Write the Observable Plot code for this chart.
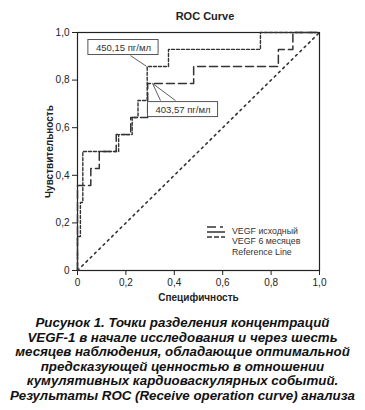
<!DOCTYPE html>
<html><head><meta charset="utf-8">
<script src="https://cdn.jsdelivr.net/npm/d3@7"></script>
<script src="https://cdn.jsdelivr.net/npm/@observablehq/plot@0.6"></script>
<style>
body{margin:0;background:#fff;font-family:"Liberation Sans",Arial,sans-serif;}
#wrap{position:relative;width:365px;height:410px;}
#border{position:absolute;left:4px;top:4px;width:356px;height:306px;border:1.5px solid #222;}
#chart{position:absolute;left:0;top:0;}
#caption{position:absolute;left:0;top:316px;width:365px;text-align:center;font-weight:bold;font-style:italic;font-size:13.3px;line-height:14.6px;color:#111;}
</style></head>
<body><div id="wrap"><div id="border"></div><div id="chart"></div><div id="caption"></div></div>
<script>
// VEGF 6 месяцев (corners, step-before): 1-specificity, sensitivity
const sixX = [0, 0.012, 0.022, 0.17, 0.226, 0.25, 0.288, 0.376, 0.756, 1];
const sixY = [0, 0.143, 0.286, 0.5, 0.571, 0.643, 0.714, 0.857, 0.929, 1];
// VEGF исходный
const baseX = [0, 0.055, 0.09, 0.16, 0.22, 0.29, 0.48, 0.83, 0.89, 1];
const baseY = [0, 0.357, 0.429, 0.5, 0.571, 0.643, 0.786, 0.857, 0.929, 1];
const refX = [0, 1];
const refY = [0, 1];
const ticks = [0, 0.2, 0.4, 0.6, 0.8, 1.0];
const seriesNames = ["VEGF исходный", "VEGF 6 месяцев", "Reference Line"];
const annLabels = ["450,15 пг/мл", "403,57 пг/мл"];
const annBoxX = [0.19, 0.436];
const annBoxY = [0.937, 0.676];
const captionLines = [
 "Рисунок 1. Точки разделения концентраций",
 "VEGF-1 в начале исследования и через шесть",
 "месяцев наблюдения, обладающие оптимальной",
 "предсказующей ценностью в отношении",
 "кумулятивных кардиоваскулярных событий.",
 "Результаты ROC (Receive operation curve) анализа"
];

const six = sixX.map((x,i)=>({x, y: sixY[i]}));
const base = baseX.map((x,i)=>({x, y: baseY[i]}));
const ref = refX.map((x,i)=>({x, y: refY[i]}));
const bw = 0.29, bh = 0.063;
const boxes = annLabels.map((t,i)=>({t, x: annBoxX[i], y: annBoxY[i]}));
const links = [
  {x1: 0.219, y1: 0.903, x2: 0.285, y2: 0.858},
  {x1: 0.343, y1: 0.714, x2: 0.31, y2: 0.786},
  {x1: 0.405, y1: 0.714, x2: 0.31, y2: 0.786}
];
const fmt = d => d === 0 ? "0" : d.toFixed(1).replace(".", ",");
const col = "#333";

const plot = Plot.plot({
  width: 365, height: 316,
  marginLeft: 77, marginRight: 46, marginTop: 32, marginBottom: 46,
  x: {domain: [0,1]}, y: {domain: [0,1]},
  style: {fontFamily: "'Liberation Sans', Arial, sans-serif", fontSize: "10px", color: "#222", background: "white"},
  marks: [
    Plot.frame({stroke: "#222", strokeWidth: 1.2}),
    Plot.axisX({ticks, tickFormat: fmt, tickSize: 5, tickPadding: 3, fontSize: 10,
      label: "Специфичность", labelAnchor: "center", labelArrow: "none", labelOffset: 30}),
    Plot.axisY({ticks, tickFormat: fmt, tickSize: 5, tickPadding: 3, fontSize: 10,
      label: "Чувствительность", labelAnchor: "center", labelArrow: "none", labelOffset: 32}),
    Plot.line(ref, {x: "x", y: "y", stroke: col, strokeWidth: 1.6, strokeDasharray: "2,4"}),
    Plot.line(base, {x: "x", y: "y", curve: "step-before", stroke: col, strokeWidth: 1.5, strokeDasharray: "8,4"}),
    Plot.line(six, {x: "x", y: "y", curve: "step-before", stroke: col, strokeWidth: 1.4, strokeDasharray: "3,2"}),
    Plot.link(links, {x1: "x1", y1: "y1", x2: "x2", y2: "y2", stroke: "#333", strokeWidth: 0.8}),
    Plot.rect(boxes, {x1: d=>d.x-bw/2, x2: d=>d.x+bw/2, y1: d=>d.y-bh/2, y2: d=>d.y+bh/2, fill: "white", stroke: "#444", strokeWidth: 0.9}),
    Plot.text(boxes, {x: "x", y: "y", text: "t", fontSize: 9.5, fill: "#333"})
  ]
});
document.getElementById("chart").appendChild(plot);
const svg = d3.select(plot);
svg.selectAll("[aria-label='x-axis label'] text, [aria-label='y-axis label'] text").attr("font-weight","bold").attr("font-size", 10);
svg.append("text").attr("x", 205).attr("y", 20).attr("text-anchor","middle").attr("font-weight","bold").attr("font-size", 11).attr("fill","#222").text("ROC Curve");
// legend
const symDash = ["9,4,3,20", "16,0", "5,2"];
const symY = [227, 232, 237];
const txtY = [233.5, 244, 255];
seriesNames.forEach((n,i)=>{
  svg.append("line").attr("x1",207).attr("x2",225).attr("y1", symY[i]).attr("y2", symY[i])
    .attr("stroke", col).attr("stroke-width", 1.5).attr("stroke-dasharray", symDash[i]);
  svg.append("text").attr("x", 232).attr("y", txtY[i]).attr("text-anchor","start").attr("font-size", 8.8).attr("fill","#333").text(n);
});
document.getElementById("caption").innerHTML = captionLines.map(l=>`<div>${l}</div>`).join("");
</script></body></html>
